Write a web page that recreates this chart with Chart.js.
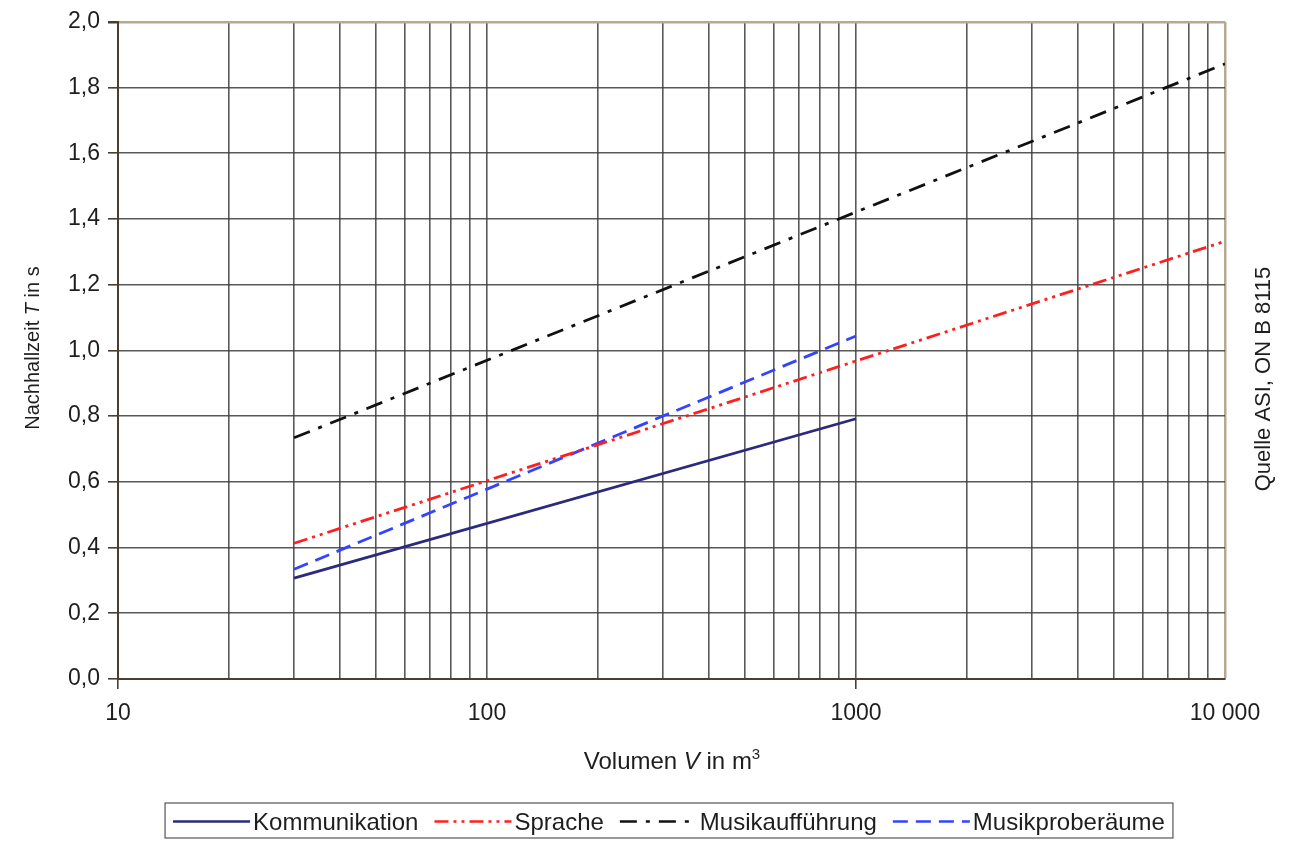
<!DOCTYPE html>
<html>
<head>
<meta charset="utf-8">
<script src="https://cdn.jsdelivr.net/npm/chart.js@4/dist/chart.umd.min.js"></script>
<style>
  html, body { margin: 0; padding: 0; background: #fff; }
  #chart { display: block; }
</style>
</head>
<body>
<canvas id="chart" width="1291" height="841"></canvas>
<script>
// --- Data ---
const kommV = [30, 1000];
const kommT = [0.307, 0.792];
const spracheV = [30, 10000];
const spracheT = [0.413, 1.332];
const musikV = [30, 10000];
const musikT = [0.734, 1.872];
const probeV = [30, 1000];
const probeT = [0.334, 1.044];

const seriesNames = ['Kommunikation', 'Sprache', 'Musikaufführung', 'Musikproberäume'];
const xGridValues = [10, 20, 30, 40, 50, 60, 70, 80, 90,
                     100, 200, 300, 400, 500, 600, 700, 800, 900,
                     1000, 2000, 3000, 4000, 5000, 6000, 7000, 8000, 9000, 10000];
const xLabels = { 10: '10', 100: '100', 1000: '1000', 10000: '10 000' };

// --- Styles ---
const FONT = '"Liberation Sans", Arial, sans-serif';
const TEXT = '#1e1e1e';
const GRID = 'rgba(60,60,60,0.85)';
const FRAME_DARK = '#4b3d2f';
const FRAME_LIGHT = '#b8a88f';

const styles = [
    { color: '#2b2a7c', dash: [] },
    { color: '#ff1f1f', dash: [14, 5, 3, 5, 3, 5] },
    { color: '#111111', dash: [17, 9, 4, 9] },
    { color: '#3344ff', dash: [15, 8] }
];

function toPoints(vs, ts) {
    return vs.map((v, i) => ({ x: v, y: ts[i] }));
}

const seriesData = [
    toPoints(kommV, kommT),
    toPoints(spracheV, spracheT),
    toPoints(musikV, musikT),
    toPoints(probeV, probeT)
];

// --- Extra text: axis titles, source note, legend ---
function drawMixed(ctx, parts, x, y, align) {
    let total = 0;
    parts.forEach(p => { ctx.font = p.font; total += ctx.measureText(p.text).width; });
    let cx = align === 'center' ? x - total / 2 : x;
    parts.forEach(p => {
        ctx.font = p.font;
        ctx.fillText(p.text, cx, y + (p.dy || 0));
        cx += ctx.measureText(p.text).width;
    });
}

const extrasPlugin = {
    id: 'extras',
    afterDraw(chart) {
        const ctx = chart.ctx;
        ctx.save();
        ctx.fillStyle = TEXT;
        ctx.textBaseline = 'alphabetic';
        ctx.textAlign = 'left';

        // y title
        ctx.save();
        ctx.translate(39, 348);
        ctx.rotate(-Math.PI / 2);
        drawMixed(ctx, [
            { text: 'Nachhallzeit ', font: '20px ' + FONT },
            { text: 'T', font: 'italic 20px ' + FONT },
            { text: ' in s', font: '20px ' + FONT }
        ], 0, 0, 'center');
        ctx.restore();

        // x title
        drawMixed(ctx, [
            { text: 'Volumen ', font: '24px ' + FONT },
            { text: 'V', font: 'italic 24px ' + FONT },
            { text: ' in m', font: '24px ' + FONT },
            { text: '3', font: '15px ' + FONT, dy: -10 }
        ], 672, 769, 'center');

        // source note
        ctx.save();
        ctx.translate(1270, 379);
        ctx.rotate(-Math.PI / 2);
        ctx.font = '22px ' + FONT;
        ctx.textAlign = 'center';
        ctx.fillText('Quelle ASI, ON B 8115', 0, 0);
        ctx.restore();

        // legend
        const sample = 77, gapText = 3, gapItem = 16, padX = 8;
        ctx.font = '24px ' + FONT;
        let width = 0;
        seriesNames.forEach((n, i) => {
            width += sample + gapText + ctx.measureText(n).width;
            if (i < seriesNames.length - 1) width += gapItem;
        });
        const boxW = width + padX * 2;
        const boxL = 669 - boxW / 2, boxT = 803, boxH = 35;
        ctx.strokeStyle = '#555';
        ctx.lineWidth = 1.2;
        ctx.strokeRect(boxL, boxT, boxW, boxH);
        let lx = boxL + padX;
        const ly = boxT + boxH / 2 + 1;
        seriesNames.forEach((n, i) => {
            ctx.strokeStyle = styles[i].color;
            ctx.lineWidth = 2.5;
            ctx.setLineDash(styles[i].dash);
            ctx.beginPath();
            ctx.moveTo(lx, ly);
            ctx.lineTo(lx + sample, ly);
            ctx.stroke();
            ctx.setLineDash([]);
            lx += sample + gapText;
            ctx.fillStyle = TEXT;
            ctx.fillText(n, lx, ly + 8);
            lx += ctx.measureText(n).width + gapItem;
        });
        ctx.restore();
    }
};

Chart.defaults.font.family = FONT;
Chart.defaults.font.size = 23;
Chart.defaults.color = TEXT;

new Chart(document.getElementById('chart'), {
    type: 'line',
    data: {
        datasets: seriesData.map((d, i) => ({
            label: seriesNames[i],
            data: d,
            borderColor: styles[i].color,
            borderDash: styles[i].dash,
            borderWidth: 2.8,
            pointRadius: 0,
            fill: false,
            tension: 0
        }))
    },
    options: {
        responsive: false,
        devicePixelRatio: 1,
        animation: false,
        layout: { padding: { left: 0, top: 20, right: 66, bottom: 112 } },
        plugins: { legend: { display: false }, tooltip: { enabled: false } },
        scales: {
            x: {
                type: 'logarithmic',
                min: 10,
                max: 10000,
                afterBuildTicks: s => { s.ticks = xGridValues.map(v => ({ value: v })); },
                afterFit: s => { s.height = 50; },
                border: { display: true, color: FRAME_DARK, width: 2 },
                grid: {
                    color: c => c.tick && c.tick.value === 10000 ? FRAME_LIGHT : GRID,
                    lineWidth: c => c.tick && c.tick.value === 10000 ? 2.5 : 1.6,
                    drawTicks: true,
                    tickLength: 10,
                    tickColor: c => c.tick && (c.tick.value === 10 || c.tick.value === 1000) ? FRAME_DARK : 'rgba(0,0,0,0)'
                },
                ticks: {
                    autoSkip: false,
                    maxRotation: 0,
                    padding: 11,
                    callback: v => xLabels[v] || ''
                }
            },
            y: {
                min: 0,
                max: 2,
                afterFit: s => { s.width = 118; },
                border: { display: true, color: FRAME_DARK, width: 2 },
                grid: {
                    color: c => c.tick && c.tick.value === 2 ? FRAME_LIGHT : GRID,
                    lineWidth: c => c.tick && c.tick.value === 2 ? 2.5 : 1.6,
                    drawTicks: true,
                    tickLength: 10,
                    tickColor: FRAME_DARK
                },
                ticks: {
                    stepSize: 0.2,
                    padding: 8,
                    callback: v => v.toFixed(1).replace('.', ',')
                }
            }
        }
    },
    plugins: [extrasPlugin]
});
</script>
</body>
</html>
